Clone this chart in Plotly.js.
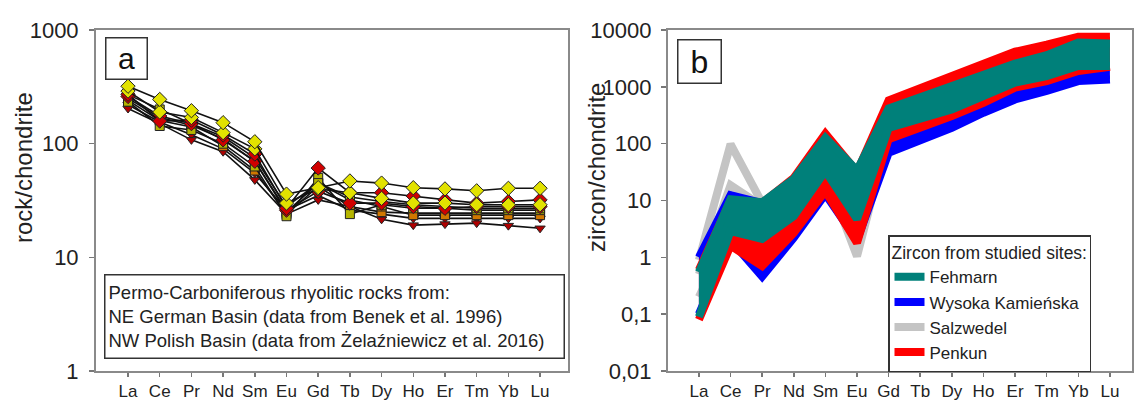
<!DOCTYPE html>
<html><head><meta charset="utf-8">
<script src="https://cdn.plot.ly/plotly-3.0.1.min.js"></script>
<style>html,body{margin:0;padding:0;background:#fff}#chart{width:1135px;height:402px}</style>
</head><body><div id="chart"></div>
<script>
// ---------- DATA ----------
const elements = ['La','Ce','Pr','Nd','Sm','Eu','Gd','Tb','Dy','Ho','Er','Tm','Yb','Lu'];

// Panel a: rock/chondrite, individual samples
const rockS1 = [320,245,195,153,104,36,41,47,45,41,40,38.5,40.5,40.5];
const rockS2 = [272,158,161,119,81,27,61,37,37,34.6,32,30,31,32];
const rockS3 = [290,190,170,125,90,30,40,37,33,30,30,29,29,29];
const rockS4 = [234,143,132,100,63,23,50,24,29,27,27,26,26,26];
const rockS5 = [250,170,145,110,70,25,45,32,28,23.5,23.5,23.5,23.5,23.5];
const rockS6 = [204,150,108,85,48,24,32,28,21.6,19.2,19.6,20,19,18];
const rockS7 = [260,175,150,108,70,26,38,30,30,28,27,28,28,28];
const rockS8 = [240,160,140,95,58,24,42,28,25,24.5,24.5,24.5,24.5,24.5];
const rockS9 = [220,155,120,90,55,26,35,26,24,22,22,22,22,22];
const rockS10 = [270,200,150,115,75,28,45,34,31,29,28,27,27,27];

// Panel b: zircon/chondrite ranges per site
const fehmarnMax = [0.55,10.5,9.3,24,126,34,415,650,1000,1600,2560,3600,6000,5800];
const fehmarnMin = [0.09,2.9,2.1,5.3,33,4.7,190,280,400,690,1190,1550,2330,2330];
const penkunMax = [0.6,10,9,25,150,32,580,930,1600,2550,4150,5500,7600,7600];
const penkunMin = [0.08,1.6,0.7,2.7,14.6,1.8,120,190,305,525,970,1260,1900,2250];
const wysokaMax = [1.0,12.4,9,20,110,25,380,600,950,1500,2400,3400,5500,5500];
const wysokaMin = [0.1,2,0.46,2.2,12.9,2,69,111,190,350,600,850,1260,1350];
const salzA = [0.9,98,9,22,110,25,350,500,800,1300,2000,2800,4500,4500];
const salzB = [0.5,18.6,8,20,100,15,300,450,750,1200,1900,2700,4300,4300];
const salzC = [0.2,3,2.5,6,30,1.04,150,250,380,650,1100,1500,2300,2300];

const tickA = [1,10,100,1000];
const tickAText = ['1','10','100','1000'];
const tickB = [0.01,0.1,1,10,100,1000,10000];
const tickBText = ['0,01','0,1','1','10','100','1000','10000'];

const legendAText = ['Permo-Carboniferous rhyolitic rocks from:',
  'NE German Basin (data from Benek et al. 1996)',
  'NW Polish Basin (data from Żelaźniewicz et al. 2016)'];
const legendBTitle = 'Zircon from studied sites:';

// ---------- STYLES ----------
const FONT = '"Liberation Sans", Arial, sans-serif';
const yellow = '#e2e200', red = '#d00000', olive = '#b5b500', orange = '#d07800', darkred = '#b00000';
const rockSeries = [
  [rockS9, 'triangle-down', darkred],
  [rockS6, 'triangle-down', darkred],
  [rockS8, 'square', orange],
  [rockS5, 'square', orange],
  [rockS4, 'square', olive],
  [rockS10, 'square', olive],
  [rockS7, 'diamond', red],
  [rockS2, 'diamond', red],
  [rockS3, 'diamond', yellow],
  [rockS1, 'diamond', yellow]
];

const traces = [];
rockSeries.forEach(([vals, sym, col]) => {
  traces.push({
    x: elements, y: vals, xaxis: 'x', yaxis: 'y', type: 'scatter', mode: 'lines+markers',
    line: {color: '#111', width: 1.6},
    marker: {symbol: sym, size: sym === 'diamond' ? 11 : 9, color: col, line: {color: '#222', width: 1}},
    showlegend: false, hoverinfo: 'skip'
  });
});

const BW = 8;
function band(maxV, minV, col, name, rank) {
  traces.push({x: elements, y: maxV, xaxis: 'x2', yaxis: 'y2', type: 'scatter', mode: 'lines',
    line: {color: col, width: BW}, name: name, legendrank: rank, showlegend: true});
  traces.push({x: elements, y: minV, xaxis: 'x2', yaxis: 'y2', type: 'scatter', mode: 'lines',
    line: {color: col, width: BW}, fill: 'tonexty', fillcolor: col, showlegend: false});
}
const gray = '#c4c4c4';
[salzA, salzB, salzC].forEach((v, i) => {
  traces.push({x: elements, y: v, xaxis: 'x2', yaxis: 'y2', type: 'scatter', mode: 'lines',
    line: {color: gray, width: BW}, name: 'Salzwedel', legendrank: 3, showlegend: i === 0});
});
band(wysokaMax, wysokaMin, '#0000ff', 'Wysoka Kamieńska', 2);
band(penkunMax, penkunMin, '#ff0000', 'Penkun', 4);
band(fehmarnMax, fehmarnMin, '#00807a', 'Fehmarn', 1);

const axisLine = {showline: true, linecolor: '#8a8a8a', linewidth: 2, mirror: true, showgrid: false, zeroline: false};
const xCommon = Object.assign({}, axisLine, {type: 'category', ticks: 'outside', ticklen: 4, tickwidth: 1.5,
  tickcolor: '#777', tickfont: {family: FONT, size: 17, color: '#222'}, ticklabelstandoff: 0});
const yTickFont = {family: FONT, size: 22, color: '#222'};

const layout = {
  width: 1135, height: 402, margin: {l: 0, r: 0, t: 0, b: 0},
  paper_bgcolor: '#fff', plot_bgcolor: '#fff', font: {family: FONT},
  xaxis: Object.assign({}, xCommon, {domain: [0.0846, 0.5004], range: [-1.01, 13.88], anchor: 'y'}),
  yaxis: Object.assign({}, axisLine, {type: 'log', range: [0, 3], domain: [0.0771, 0.9254], anchor: 'x',
    tickvals: tickA, ticktext: tickAText, ticks: 'outside', ticklen: 5, tickcolor: '#777', tickwidth: 1.5,
    tickfont: yTickFont, ticklabelstandoff: 6}),
  xaxis2: Object.assign({}, xCommon, {domain: [0.5885, 0.9974], range: [-0.98, 13.7], anchor: 'y2'}),
  yaxis2: Object.assign({}, axisLine, {type: 'log', range: [-2, 4], domain: [0.0771, 0.9254], anchor: 'x2',
    tickvals: tickB, ticktext: tickBText, ticks: 'outside', ticklen: 5, tickcolor: '#777', tickwidth: 1.5,
    tickfont: yTickFont, ticklabelstandoff: 5}),
  showlegend: true,
  legend: {x: 888/1135, xanchor: 'left', y: (402-235)/402, yanchor: 'top',
    bgcolor: '#fff', bordercolor: '#333', borderwidth: 1.5,
    font: {family: FONT, size: 17, color: '#222'},
    title: {text: legendBTitle, font: {family: FONT, size: 17.5, color: '#222'}},
    traceorder: 'normal', itemwidth: 30, tracegroupgap: 0},
  annotations: [
    {xref: 'paper', yref: 'paper', x: 105/1135, y: (402-37)/402, xanchor: 'left', yanchor: 'top',
     text: 'a', showarrow: false, font: {family: FONT, size: 30, color: '#111'},
     width: 38, height: 38, bordercolor: '#333', borderwidth: 1.5, borderpad: 1, bgcolor: '#fff'},
    {xref: 'paper', yref: 'paper', x: 677/1135, y: (402-39)/402, xanchor: 'left', yanchor: 'top',
     text: 'b', showarrow: false, font: {family: FONT, size: 32, color: '#111'},
     width: 40, height: 40, bordercolor: '#333', borderwidth: 1.5, borderpad: 1, bgcolor: '#fff'},
    {xref: 'paper', yref: 'paper', x: 104/1135, y: (402-274)/402, xanchor: 'left', yanchor: 'top',
     text: legendAText.join('<br>'), showarrow: false, align: 'left', valign: 'middle',
     font: {family: FONT, size: 18.5, color: '#222'},
     width: 452, height: 76, bordercolor: '#333', borderwidth: 1.5, borderpad: 3, bgcolor: '#fff'},
    {xref: 'paper', yref: 'paper', x: 23/1135, y: (402-168)/402, xanchor: 'center', yanchor: 'middle',
     text: 'rock/chondrite', textangle: -90, showarrow: false, font: {family: FONT, size: 24, color: '#222'}},
    {xref: 'paper', yref: 'paper', x: 596/1135, y: (402-168)/402, xanchor: 'center', yanchor: 'middle',
     text: 'zircon/chondrite', textangle: -90, showarrow: false, font: {family: FONT, size: 24, color: '#222'}}
  ]
};

Plotly.newPlot('chart', traces, layout, {displayModeBar: false, staticPlot: true});
</script>
</body></html>
